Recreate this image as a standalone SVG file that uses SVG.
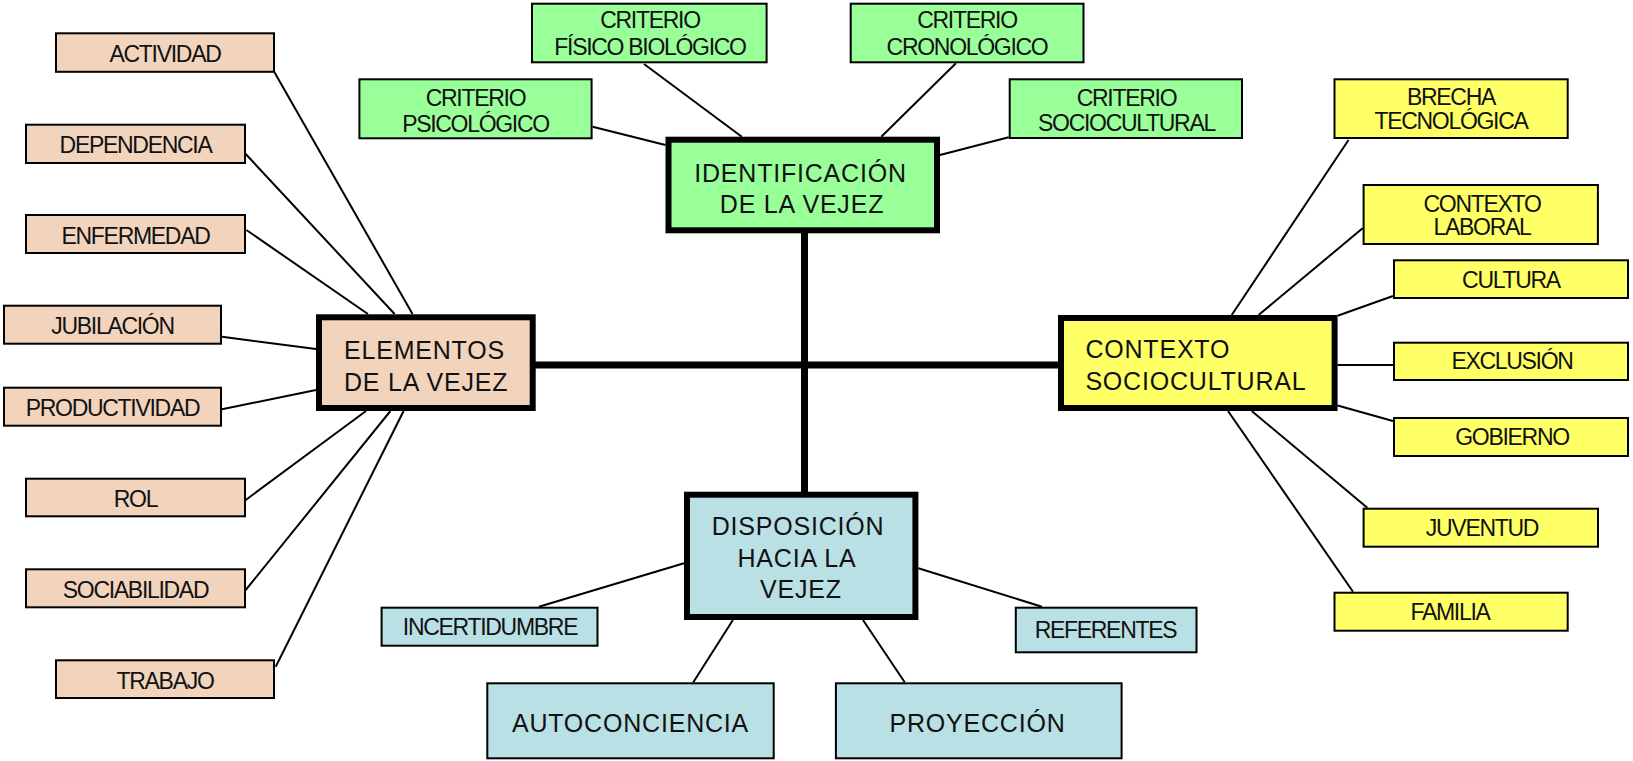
<svg xmlns="http://www.w3.org/2000/svg" width="1633" height="761" viewBox="0 0 1633 761">
<style>
.bg{fill:#ffffff}
.thin{stroke:#000;stroke-width:2;fill:none}
.trunk{stroke:#000;stroke-width:7;fill:none}
.peach{fill:#F2D4BD;stroke:#000;stroke-width:2}
.green{fill:#99FF99;stroke:#000;stroke-width:2}
.yellow{fill:#FFFF66;stroke:#000;stroke-width:2}
.blue{fill:#B9E0E4;stroke:#000;stroke-width:2}
.main{stroke-width:6}
.s{font-family:"Liberation Sans",Arial,sans-serif;font-size:23px;letter-spacing:-1.3px;fill:#111;text-anchor:middle}
.b{font-family:"Liberation Sans",Arial,sans-serif;font-size:25px;letter-spacing:0.8px;fill:#111;text-anchor:middle}
.l{text-anchor:start}
</style>
<rect class="bg" x="0" y="0" width="1633" height="761"/>
<g id="connectors">
<line class="trunk" x1="535" y1="365" x2="1059" y2="365"/>
<line class="trunk" x1="804.5" y1="233" x2="804.5" y2="492"/>
<line class="thin" x1="274.3" y1="72" x2="412.5" y2="314"/>
<line class="thin" x1="245.7" y1="154" x2="394.6" y2="314"/>
<line class="thin" x1="246.4" y1="230" x2="367.9" y2="314"/>
<line class="thin" x1="222" y1="336.7" x2="316" y2="349"/>
<line class="thin" x1="222" y1="409.3" x2="316" y2="390"/>
<line class="thin" x1="245.7" y1="500" x2="366" y2="411"/>
<line class="thin" x1="245.7" y1="590" x2="390.4" y2="411"/>
<line class="thin" x1="275.7" y1="666.7" x2="403.6" y2="411"/>
<line class="thin" x1="592.6" y1="126.7" x2="665.5" y2="145"/>
<line class="thin" x1="644" y1="64" x2="741.8" y2="136.7"/>
<line class="thin" x1="955.9" y1="63.3" x2="881.3" y2="136.7"/>
<line class="thin" x1="1008.7" y1="137.3" x2="940" y2="155"/>
<line class="thin" x1="1348.5" y1="140" x2="1231.7" y2="315"/>
<line class="thin" x1="1362.6" y1="228.3" x2="1258.6" y2="315"/>
<line class="thin" x1="1393" y1="296" x2="1337.6" y2="315.7"/>
<line class="thin" x1="1337.6" y1="365" x2="1393" y2="365"/>
<line class="thin" x1="1337.6" y1="405.5" x2="1393" y2="421"/>
<line class="thin" x1="1251.7" y1="411" x2="1367.3" y2="507.7"/>
<line class="thin" x1="1228" y1="411" x2="1353" y2="591.7"/>
<line class="thin" x1="538.9" y1="606.7" x2="684" y2="563.3"/>
<line class="thin" x1="918.4" y1="568.3" x2="1041.9" y2="606.7"/>
<line class="thin" x1="732.9" y1="620" x2="693.3" y2="682.3"/>
<line class="thin" x1="863" y1="620" x2="904.7" y2="682.3"/>
</g>
<g id="n-actividad"><rect class="peach" x="56" y="33.3" width="218" height="38.5"/><text class="s" x="165" y="62">ACTIVIDAD</text></g>
<g id="n-dependencia"><rect class="peach" x="26" y="124.7" width="219" height="38.3"/><text class="s" x="135.5" y="152.8">DEPENDENCIA</text></g>
<g id="n-enfermedad"><rect class="peach" x="26" y="215" width="219" height="38"/><text class="s" x="135.5" y="243.5">ENFERMEDAD</text></g>
<g id="n-jubilacion"><rect class="peach" x="4" y="305.7" width="217" height="38"/><text class="s" x="112.5" y="334.2">JUBILACIÓN</text></g>
<g id="n-productividad"><rect class="peach" x="4" y="387.7" width="217" height="38"/><text class="s" x="112.5" y="416.2">PRODUCTIVIDAD</text></g>
<g id="n-rol"><rect class="peach" x="26" y="478.7" width="219" height="37.6"/><text class="s" x="135.5" y="507">ROL</text></g>
<g id="n-sociabilidad"><rect class="peach" x="26" y="569.3" width="219" height="38"/><text class="s" x="135.5" y="597.8">SOCIABILIDAD</text></g>
<g id="n-trabajo"><rect class="peach" x="56" y="660.3" width="218" height="37.7"/><text class="s" x="165" y="688.7">TRABAJO</text></g>
<g id="n-elementos"><rect class="peach main" x="319" y="317.3" width="213.7" height="90.7"/><text class="b l" x="344" y="359.3">ELEMENTOS</text><text class="b l" x="344" y="390.7">DE LA VEJEZ</text></g>
<g id="n-psicologico"><rect class="green" x="359.4" y="79.3" width="232.2" height="59"/><text class="s" x="475.5" y="106">CRITERIO</text><text class="s" x="475.5" y="131.7">PSICOLÓGICO</text></g>
<g id="n-fisico"><rect class="green" x="532" y="3.7" width="234.6" height="58.6"/><text class="s" x="650" y="28.3">CRITERIO</text><text class="s" x="650" y="55">FÍSICO BIOLÓGICO</text></g>
<g id="n-cronologico"><rect class="green" x="850.7" y="3.7" width="232.8" height="58.6"/><text class="s" x="967" y="28.3">CRITERIO</text><text class="s" x="967" y="55">CRONOLÓGICO</text></g>
<g id="n-sociocultural-c"><rect class="green" x="1009.7" y="79.3" width="232.3" height="58.7"/><text class="s" x="1126.5" y="106">CRITERIO</text><text class="s" x="1126.5" y="131">SOCIOCULTURAL</text></g>
<g id="n-identificacion"><rect class="green main" x="668.5" y="139.7" width="268.5" height="90.6"/><text class="b" x="800.5" y="181.7">IDENTIFICACIÓN</text><text class="b" x="802" y="213.3">DE LA VEJEZ</text></g>
<g id="n-brecha"><rect class="yellow" x="1334.5" y="79.3" width="233.2" height="58.7"/><text class="s" x="1451" y="105">BRECHA</text><text class="s" x="1451" y="129">TECNOLÓGICA</text></g>
<g id="n-laboral"><rect class="yellow" x="1363.6" y="185" width="234.3" height="59"/><text class="s" x="1482" y="211.7">CONTEXTO</text><text class="s" x="1482" y="235">LABORAL</text></g>
<g id="n-cultura"><rect class="yellow" x="1394" y="260.3" width="234" height="37.7"/><text class="s" x="1511" y="287.5">CULTURA</text></g>
<g id="n-exclusion"><rect class="yellow" x="1394" y="342.7" width="234" height="37.3"/><text class="s" x="1512" y="369.3">EXCLUSIÓN</text></g>
<g id="n-gobierno"><rect class="yellow" x="1394" y="418" width="234" height="38"/><text class="s" x="1512" y="445">GOBIERNO</text></g>
<g id="n-juventud"><rect class="yellow" x="1363.6" y="508.7" width="234.4" height="38"/><text class="s" x="1482" y="535.7">JUVENTUD</text></g>
<g id="n-familia"><rect class="yellow" x="1334.5" y="592.7" width="233.2" height="38"/><text class="s" x="1450" y="619.7">FAMILIA</text></g>
<g id="n-contexto"><rect class="yellow main" x="1061" y="318" width="273.6" height="90"/><text class="b l" x="1085.4" y="358.3">CONTEXTO</text><text class="b l" x="1085.4" y="390">SOCIOCULTURAL</text></g>
<g id="n-disposicion"><rect class="blue main" x="687" y="494.7" width="228.4" height="122.3"/><text class="b" x="798" y="535">DISPOSICIÓN</text><text class="b" x="797" y="567.3">HACIA LA</text><text class="b" x="801" y="598.3">VEJEZ</text></g>
<g id="n-incertidumbre"><rect class="blue" x="381.6" y="607.7" width="215.9" height="38"/><text class="s" x="490" y="635">INCERTIDUMBRE</text></g>
<g id="n-referentes"><rect class="blue" x="1015.8" y="607.7" width="180.7" height="44.6"/><text class="s" x="1105.5" y="638.3">REFERENTES</text></g>
<g id="n-autoconciencia"><rect class="blue" x="487.3" y="683.3" width="286.4" height="75"/><text class="b" x="630.5" y="731.7">AUTOCONCIENCIA</text></g>
<g id="n-proyeccion"><rect class="blue" x="835.9" y="683.3" width="285.7" height="75"/><text class="b" x="977.5" y="731.7">PROYECCIÓN</text></g>
</svg>
